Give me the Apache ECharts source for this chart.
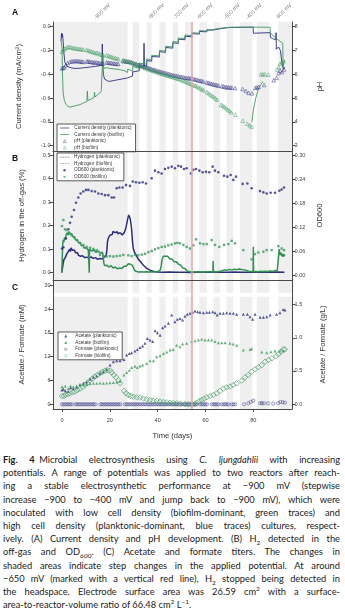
<!DOCTYPE html>
<html>
<head>
<meta charset="utf-8">
<script src="https://cdn.jsdelivr.net/npm/echarts@6/dist/echarts.min.js"></script>
<style>
  html, body { margin: 0; padding: 0; background: #fff; width: 345px; height: 614px; overflow: hidden; }
  #chart { position: absolute; left: 0; top: 0; width: 345px; height: 452px; }
  #caption { position: absolute; left: 3px; top: 453px; width: 337px; font-family: Lato, "Noto Sans", sans-serif;
             font-size: 9.3px; line-height: 13.2px; color: #1a1a1a; }
  #caption .ln { text-align: justify; text-align-last: justify; }
  #caption .last { text-align: left; text-align-last: left; }
  #caption sub, #caption sup { font-size: 70%; line-height: 0; }
</style>
</head>
<body>
<div id="chart"></div>
<div id="caption">
  <div class="ln"><b>Fig. 4</b>&ensp;Microbial electrosynthesis using <i>C. ljungdahlii</i> with increasing</div>
  <div class="ln">potentials. A range of potentials was applied to two reactors after reach-</div>
  <div class="ln">ing a stable electrosynthetic performance at −900 mV (stepwise</div>
  <div class="ln">increase −900 to −400 mV and jump back to −900 mV), which were</div>
  <div class="ln">inoculated with low cell density (biofilm-dominant, green traces) and</div>
  <div class="ln">high cell density (planktonic-dominant, blue traces) cultures, respect-</div>
  <div class="ln">ively. (A) Current density and pH development. (B) H<sub>2</sub> detected in the</div>
  <div class="ln">off-gas and OD<sub>600</sub>. (C) Acetate and formate titers. The changes in</div>
  <div class="ln">shaded areas indicate step changes in the applied potential. At around</div>
  <div class="ln">−650 mV (marked with a vertical red line), H<sub>2</sub> stopped being detected in</div>
  <div class="ln">the headspace. Electrode surface area was 26.59 cm<sup>2</sup> with a surface-</div>
  <div class="ln last">area-to-reactor-volume ratio of 66.48 cm<sup>2</sup> L<sup>−1</sup>.</div>
</div>
<script>
// ---- time axis and potential steps -------------------------------------
const DAY_MIN = -3.76, DAY_MAX = 96.15;
const timeTicks = [0, 20, 40, 60, 80];
const potentialDays = [14.6, 37.1, 47.5, 57.4, 68.8, 77.9, 90.4];
const potentialLabels = ['-900 mV', '-800 mV', '-700 mV', '-600 mV', '-500 mV', '-400 mV', '-900 mV'];
// shaded step intervals (days)
const shadedSteps = [[DAY_MIN, 27.45], [29.5, 32.3], [35.4, 37.5], [40.7, 43.3], [46.3, 48.6], [51.4, 54.2],
  [57.4, 60.5], [63.3, 66.1], [68.8, 71.6], [74.4, 79.6], [81.4, 86.7], [90.4, DAY_MAX]];
const redLineDay = 54.2;

// ---- tick values --------------------------------------------------------
const currentTicks = [-1.0, -0.8, -0.6, -0.4, -0.2, 0.0];
const phTicks = [3, 4, 5, 6, 7, 8];
const hydrogenTicks = [0, 0.1, 0.2, 0.3, 0.4, 0.5];
const odTicks = [0, 0.06, 0.12, 0.18, 0.24, 0.30];
const mmTicks = [0, 6, 12, 18, 24, 30];
const glTicks = [0, 0.5, 1.0, 1.5];

// ---- (A) current density, mA/cm2 ---------------------------------------
const currentPlanktonic = [[-0.4,-0.12],[-0.2,-0.055],[0,-0.09],[0.2,-0.06],[0.4,-0.1],[0.8,-0.22],[1.2,-0.3],[2,-0.33],[3,-0.34],[4,-0.345],[5,-0.35],[6.5,-0.35],[8,-0.348],[10,-0.343],[12,-0.338],[14,-0.333],[15.5,-0.328],[16.7,-0.325],[16.85,-0.145],[17.0,-0.3],[17.3,-0.4],[17.8,-0.44],[18.5,-0.455],[19.5,-0.46],[21,-0.455],[23,-0.447],[25,-0.44],[27.45,-0.43],[29.5,-0.415],[29.55,-0.38],[32.3,-0.37],[32.35,-0.325],[34.2,-0.335],[34.3,-0.14],[34.4,-0.33],[35.4,-0.335],[35.45,-0.285],[37.5,-0.29],[37.55,-0.25],[40.7,-0.255],[40.75,-0.21],[43.3,-0.215],[43.35,-0.175],[46.3,-0.18],[46.35,-0.135],[48.6,-0.14],[48.65,-0.105],[51.4,-0.11],[51.45,-0.08],[54.2,-0.085],[54.25,-0.058],[57.4,-0.062],[57.45,-0.04],[60.5,-0.043],[60.55,-0.026],[63.3,-0.028],[63.35,-0.015],[66.1,-0.017],[66.15,-0.008],[70,-0.006],[75,-0.005],[79.9,-0.004],[80,-0.055],[87,-0.05],[87.1,-0.09],[88,-0.1],[89.4,-0.11],[89.5,-0.05],[89.6,-0.19],[90.5,-0.17],[91.3,-0.2],[91.8,-0.28],[92.5,-0.36],[93.1,-0.34]];
const currentBiofilm = [[-0.4,-0.12],[0,-0.17],[0.2,-0.4],[0.5,-0.56],[1,-0.62],[1.6,-0.65],[2.5,-0.67],[3.5,-0.675],[4.5,-0.67],[5.5,-0.665],[6.5,-0.66],[7.5,-0.655],[8.5,-0.645],[9.5,-0.635],[10.4,-0.63],[10.6,-0.54],[10.8,-0.62],[11.5,-0.615],[12.5,-0.605],[13.4,-0.595],[13.6,-0.55],[13.8,-0.59],[14.8,-0.575],[15.6,-0.56],[16.4,-0.545],[16.9,-0.53],[17.1,-0.23],[17.3,-0.33],[17.6,-0.35],[18.5,-0.345],[20,-0.35],[22,-0.355],[24,-0.36],[26,-0.37],[27.45,-0.385],[27.5,-0.355],[29.5,-0.375],[29.55,-0.335],[32.3,-0.35],[32.35,-0.305],[35.4,-0.315],[35.45,-0.27],[37.5,-0.28],[37.55,-0.24],[40.7,-0.245],[40.75,-0.2],[43.3,-0.205],[43.35,-0.165],[46.3,-0.17],[46.35,-0.125],[48.6,-0.13],[48.65,-0.095],[51.4,-0.1],[51.45,-0.07],[54.2,-0.075],[54.25,-0.05],[57.4,-0.055],[57.45,-0.033],[60.5,-0.036],[60.55,-0.02],[63.3,-0.023],[63.35,-0.011],[66.1,-0.013],[66.15,-0.006],[70,-0.006],[75,-0.004],[77.8,-0.004],[77.85,0.012],[77.9,-0.004],[83,-0.004],[87,-0.005],[87.1,-0.05],[88,-0.07],[89.5,-0.1],[91,-0.12],[92.3,-0.14],[92.4,-0.34],[92.8,-0.3],[93.2,-0.28]];
const currentBiofilmRecovery = [[79.4,-0.8],[80,-0.7],[81,-0.6],[82,-0.53],[83,-0.49],[84,-0.46]];

// ---- (A) pH ---------------------------------------------------------------
const phPlanktonic = [[0,6.25],[0.5,6.27],[1,6.3],[1.6,6.38],[2.4,6.48],[3.4,6.53],[4.2,6.55],[5,6.55],[5.6,6.56],[6.3,6.56],[7,6.55],[7.6,6.54],[8.3,6.53],[9,6.52],[10.4,6.55],[11,6.54],[11.6,6.53],[12.3,6.52],[13,6.5],[13.6,6.5],[14.3,6.5],[15,6.48],[15.6,6.47],[16.3,6.46],[17,6.45],[18.6,6.5],[19.3,6.49],[20,6.48],[20.7,6.47],[21.4,6.46],[22.1,6.45],[22.8,6.44],[23.5,6.44],[25.5,6.56],[26.2,6.55],[26.9,6.54],[27.6,6.53],[28.3,6.52],[29,6.5],[29.7,6.48],[30.4,6.45],[31.1,6.43],[31.8,6.4],[32.5,6.38],[33.2,6.36],[33.9,6.34],[34.6,6.32],[35.3,6.3],[36,6.27],[36.7,6.25],[37.4,6.22],[38.1,6.2],[38.8,6.18],[39.5,6.16],[40.2,6.14],[40.9,6.12],[41.6,6.1],[42.3,6.08],[43,6.06],[43.7,6.04],[44.4,6.02],[45.1,6.0],[45.8,5.98],[46.5,5.96],[47.2,5.95],[47.9,5.93],[48.6,5.92],[49.3,5.9],[50,5.89],[50.7,5.88],[51.4,5.86],[52.1,5.85],[52.8,5.84],[53.5,5.83],[54.2,5.82],[54.9,5.8],[55.6,5.79],[56.3,5.77],[57,5.75],[57.7,5.73],[58.4,5.72],[59.1,5.7],[60.5,5.66],[61.2,5.64],[61.9,5.62],[62.6,5.6],[63.3,5.58],[64,5.56],[64.7,5.55],[65.4,5.52],[66.8,5.5],[67.5,5.49],[68.2,5.47],[68.9,5.46],[69.6,5.45],[70.3,5.44],[71,5.44],[72.4,5.42],[75.5,5.38],[76.9,5.3],[78,5.22],[79.4,5.2],[80.8,5.43],[81.5,5.45],[82.2,5.47],[84.5,5.55],[88.5,5.75],[89.7,5.85],[90.5,6.05],[91.2,6.15],[92,6.1],[92.8,6.2]];
const phBiofilm = [[0,6.95],[0.6,7.02],[1.2,7.08],[1.9,7.12],[2.6,7.15],[3.3,7.15],[4.0,7.12],[4.7,7.1],[5.4,7.1],[6.1,7.08],[6.8,7.07],[7.5,7.06],[8.2,7.05],[8.9,7.04],[10.3,7.03],[11,7.0],[11.7,6.98],[12.4,6.95],[13.1,6.93],[13.8,6.9],[14.5,6.9],[15.2,6.88],[15.9,6.85],[16.6,6.82],[17.3,6.8],[18.7,6.8],[19.4,6.78],[20.1,6.75],[20.8,6.73],[21.5,6.7],[22.2,6.68],[22.9,6.66],[23.6,6.64],[25.6,6.6],[26.3,6.58],[27,6.56],[27.7,6.54],[28.4,6.52],[29.1,6.5],[29.8,6.47],[30.5,6.44],[31.2,6.41],[31.9,6.38],[32.6,6.36],[33.3,6.33],[34,6.3],[34.7,6.27],[35.4,6.25],[36.1,6.22],[36.8,6.2],[37.5,6.17],[38.2,6.15],[38.9,6.12],[39.6,6.1],[40.3,6.07],[41,6.05],[41.7,6.03],[42.4,6.0],[43.1,5.98],[43.8,5.96],[44.5,5.94],[45.2,5.92],[45.9,5.9],[46.6,5.88],[47.3,5.86],[48,5.83],[48.7,5.81],[49.4,5.79],[50.1,5.76],[50.8,5.73],[51.5,5.7],[52.2,5.67],[52.9,5.64],[53.6,5.61],[54.3,5.58],[55,5.55],[55.7,5.52],[56.4,5.49],[57.1,5.45],[57.8,5.41],[58.5,5.37],[59.2,5.33],[60.6,5.25],[61.3,5.2],[62,5.15],[62.7,5.1],[63.4,5.05],[64.1,4.99],[64.8,4.93],[66.5,4.72],[67.2,4.68],[67.9,4.63],[68.6,4.58],[69.3,4.52],[70,4.47],[70.7,4.4],[72.5,4.3],[75.6,4.05],[77.5,3.92],[78.5,3.86],[79.2,3.8],[83.2,6.0],[84,6.0],[84.8,6.0],[86.3,5.98],[89.9,6.2],[90.6,6.3],[91.2,6.45],[91.9,6.5],[92.6,6.55]];

// ---- (B) hydrogen in off-gas, % ---------------------------------------------
const h2Planktonic = [[-0.1,0.0],[0.2,0.02],[0.5,0.04],[0.8,0.055],[1.1,0.05],[1.4,0.065],[1.7,0.07],[2.0,0.08],[2.3,0.075],[2.6,0.09],[2.9,0.095],[3.2,0.1],[3.5,0.09],[3.8,0.105],[4.1,0.1],[4.4,0.095],[4.7,0.1],[5.0,0.09],[5.3,0.095],[5.6,0.085],[5.9,0.09],[6.2,0.08],[6.5,0.085],[6.8,0.075],[7.1,0.08],[7.4,0.075],[7.7,0.07],[8.0,0.078],[8.3,0.068],[8.6,0.072],[8.9,0.065],[9.2,0.07],[9.5,0.064],[9.8,0.068],[10.1,0.062],[10.4,0.066],[10.7,0.06],[11.0,0.065],[11.3,0.062],[11.6,0.068],[11.9,0.063],[12.2,0.067],[12.5,0.062],[12.8,0.066],[13.1,0.061],[13.4,0.065],[13.7,0.06],[14.0,0.064],[14.3,0.058],[14.6,0.062],[14.9,0.057],[15.2,0.061],[15.5,0.056],[15.8,0.06],[16.1,0.057],[16.4,0.062],[16.7,0.058],[17.0,0.063],[17.3,0.06],[17.6,0.066],[17.9,0.064],[18.2,0.07],[18.5,0.075],[18.8,0.1],[19.0,0.13],[19.2,0.14],[19.5,0.15],[19.8,0.145],[20.1,0.16],[20.4,0.155],[20.7,0.168],[21.0,0.162],[21.3,0.175],[21.6,0.168],[21.9,0.178],[22.2,0.17],[22.5,0.176],[22.8,0.168],[23.1,0.174],[23.4,0.165],[23.7,0.172],[24.0,0.166],[24.3,0.17],[24.6,0.162],[24.9,0.168],[25.2,0.16],[25.5,0.167],[25.8,0.163],[26.1,0.172],[26.4,0.18],[26.7,0.19],[27.0,0.205],[27.3,0.22],[27.6,0.235],[27.9,0.245],[28.2,0.24],[28.5,0.23],[28.8,0.21],[29.1,0.185],[29.4,0.14],[29.7,0.11],[30.0,0.095],[30.4,0.085],[30.8,0.078],[31.2,0.07],[31.6,0.062],[32.0,0.056],[32.5,0.05],[33.0,0.044],[33.5,0.038],[34.0,0.032],[34.5,0.027],[35.0,0.022],[35.5,0.018],[36.0,0.015],[36.5,0.012],[37.0,0.01],[37.5,0.008],[38.0,0.006],[39,0.004],[40,0.003],[42,0.002],[45,0.003],[48,0.002],[51,0.002],[54,0.001],[57,0.002],[60,0.002],[63,0.003],[66,0.002],[69,0.002],[72,0.003],[75,0.002],[78,0.002],[81,0.003],[84,0.002],[87,0.002],[90,0.003],[93,0.002]];
const h2Biofilm = [[-0.1,0.0],[0.1,0.06],[0.3,0.12],[0.5,0.14],[0.8,0.13],[1.1,0.15],[1.4,0.14],[1.7,0.16],[2.0,0.155],[2.3,0.17],[2.6,0.16],[2.9,0.175],[3.2,0.165],[3.5,0.17],[3.8,0.16],[4.1,0.165],[4.4,0.155],[4.7,0.16],[5.0,0.148],[5.3,0.152],[5.6,0.14],[5.9,0.145],[6.2,0.135],[6.5,0.14],[6.8,0.128],[7.1,0.132],[7.4,0.122],[7.7,0.126],[8.0,0.116],[8.3,0.12],[8.6,0.11],[8.9,0.115],[9.2,0.105],[9.5,0.11],[9.8,0.1],[10.1,0.106],[10.4,0.098],[10.7,0.103],[11.0,0.096],[11.3,0.1],[11.4,0.0],[11.5,0.1],[11.8,0.094],[12.1,0.1],[12.4,0.092],[12.7,0.098],[13.0,0.09],[13.3,0.097],[13.6,0.089],[13.9,0.095],[14.2,0.087],[14.5,0.093],[14.8,0.086],[15.1,0.092],[15.4,0.085],[15.7,0.09],[16.0,0.083],[16.3,0.088],[16.6,0.082],[16.9,0.087],[17.2,0.07],[17.5,0.04],[17.8,0.03],[18.1,0.034],[18.4,0.026],[18.7,0.032],[19.0,0.025],[19.3,0.03],[19.6,0.024],[19.9,0.03],[20.2,0.025],[20.5,0.03],[20.8,0.022],[21.1,0.028],[21.4,0.02],[21.7,0.026],[22.0,0.018],[22.3,0.024],[22.6,0.017],[22.9,0.022],[23.2,0.016],[23.5,0.021],[23.8,0.015],[24.1,0.02],[24.4,0.016],[24.7,0.022],[25.0,0.018],[25.3,0.024],[25.6,0.02],[25.9,0.027],[26.2,0.024],[26.5,0.03],[26.8,0.027],[27.1,0.035],[27.4,0.03],[27.7,0.038],[28.0,0.033],[28.3,0.04],[28.6,0.036],[28.9,0.042],[29.2,0.035],[29.5,0.03],[29.8,0.022],[30.1,0.015],[30.4,0.01],[30.8,0.006],[31.2,0.004],[32,0.003],[33,0.004],[34,0.003],[35,0.004],[36,0.003],[37,0.004],[38,0.003],[39,0.004],[40,0.005],[41,0.01],[41.5,0.03],[41.8,0.055],[42.1,0.06],[42.4,0.07],[42.7,0.065],[43.0,0.078],[43.3,0.07],[43.6,0.075],[43.9,0.066],[44.2,0.07],[44.5,0.062],[44.8,0.066],[45.1,0.058],[45.4,0.062],[45.7,0.054],[46.0,0.058],[46.3,0.05],[46.6,0.054],[46.9,0.046],[47.2,0.05],[47.5,0.043],[47.8,0.046],[48.1,0.04],[48.4,0.043],[48.7,0.036],[49.0,0.038],[49.3,0.03],[49.6,0.032],[49.9,0.025],[50.2,0.027],[50.5,0.02],[50.8,0.022],[51.1,0.016],[51.4,0.018],[51.7,0.012],[52.0,0.01],[52.5,0.006],[53,0.004],[54,0.003],[55,0.004],[56,0.003],[57,0.004],[58,0.003],[59,0.004],[60,0.003],[61,0.004],[62,0.004],[63.1,0.003],[63.2,0.05],[63.3,0.003],[64,0.005],[65,0.004],[66,0.006],[67,0.008],[68,0.012],[69,0.01],[70,0.014],[71,0.012],[72,0.015],[73,0.013],[74,0.016],[75,0.014],[76,0.012],[77,0.01],[78,0.006],[79,0.005],[79.9,0.004],[80,0.11],[80.1,0.004],[81,0.005],[82,0.004],[83,0.006],[84,0.005],[85,0.006],[86,0.005],[87,0.007],[88,0.006],[89,0.008],[90,0.01],[90.5,0.015],[90.8,0.1],[91.0,0.085],[91.3,0.075],[91.6,0.085],[91.9,0.07],[92.2,0.08],[92.5,0.068],[92.8,0.078],[93.1,0.07]];

// ---- (B) OD600 --------------------------------------------------------------
const odPlanktonic = [[0,0.067],[0.56,0.070],[1.67,0.092],[2.65,0.115],[3.34,0.131],[4.04,0.146],[5.02,0.163],[5.85,0.181],[6.83,0.194],[7.8,0.204],[8.92,0.209],[10.03,0.213],[11.01,0.213],[12.4,0.210],[13.8,0.209],[15.19,0.204],[16.58,0.203],[17.98,0.200],[19.37,0.200],[20.76,0.194],[21.74,0.194],[22.85,0.217],[23.97,0.219],[25.36,0.219],[26.76,0.225],[28.43,0.223],[29.54,0.234],[30.93,0.232],[32.33,0.231],[33.72,0.232],[35.12,0.229],[37.49,0.242],[38.88,0.261],[40.27,0.257],[41.67,0.254],[43.06,0.265],[44.45,0.268],[45.85,0.271],[47.24,0.267],[48.63,0.273],[49.75,0.271],[51.0,0.265],[52.12,0.267],[53.93,0.254],[54.91,0.263],[56.02,0.265],[57.41,0.261],[58.81,0.257],[60.2,0.258],[61.59,0.257],[62.99,0.271],[63.96,0.261],[65.36,0.257],[67.73,0.248],[69.12,0.246],[70.51,0.250],[71.63,0.238],[72.74,0.246],[75.53,0.228],[77.48,0.229],[79.29,0.217],[82.78,0.210],[84.17,0.207],[85.56,0.204],[87.24,0.206],[89.05,0.206],[90.86,0.211],[91.83,0.214],[92.81,0.219]];
const odBiofilm = [[0,0.123],[0.56,0.138],[1.25,0.115],[1.95,0.113],[3.07,0.105],[4.04,0.100],[5.02,0.095],[6.13,0.088],[7.53,0.081],[8.92,0.076],[10.31,0.071],[11.71,0.069],[13.1,0.066],[14.49,0.063],[15.89,0.051],[17.28,0.047],[18.67,0.047],[20.07,0.048],[21.46,0.047],[22.85,0.048],[24.25,0.049],[25.64,0.051],[27.73,0.050],[29.12,0.048],[30.52,0.051],[31.91,0.050],[33.31,0.052],[34.7,0.054],[36.09,0.058],[37.49,0.061],[38.88,0.065],[40.27,0.068],[41.67,0.071],[43.06,0.072],[44.45,0.075],[45.85,0.077],[47.24,0.080],[48.22,0.081],[49.33,0.080],[50.72,0.076],[52.12,0.071],[53.51,0.067],[54.91,0.075],[56.02,0.090],[57.69,0.080],[59.09,0.078],[60.48,0.078],[62.57,0.088],[63.96,0.076],[65.77,0.071],[67.73,0.076],[69.54,0.078],[70.93,0.086],[72.32,0.080],[75.81,0.063],[79.29,0.040],[80.69,0.053],[82.08,0.057],[84.17,0.059],[85.56,0.063],[87.65,0.063],[90.44,0.073],[91.83,0.067],[92.81,0.063]];

// ---- (C) acetate and formate, mM ------------------------------------------
const acetatePlanktonic = [[0,3.6],[0.56,3.8],[1.4,3.4],[2.65,3.2],[3.6,4.2],[4.74,3.9],[6.13,4.3],[7.53,4.9],[8.92,5.3],[10.31,5.6],[11.71,6.3],[13.1,6.8],[14.49,7.1],[15.89,7.8],[17.28,8.2],[18.67,8.8],[20.07,9.9],[21.46,10.7],[22.85,11.0],[24.25,11.0],[25.9,11.3],[27.03,12.4],[28.15,12.8],[29.12,13.0],[30.5,13.4],[31.5,13.8],[32.6,14.3],[33.7,14.7],[34.7,15.4],[35.7,16.6],[36.8,16.2],[37.9,15.8],[38.9,18.5],[39.9,18.0],[41,17.4],[42.1,19.3],[43.1,19.7],[44.5,20.4],[45.85,22.5],[47.2,20.8],[48.2,21.4],[49.3,21.6],[50.4,21.2],[51.4,22.2],[52.4,22.7],[53.5,22.9],[54.6,23.15],[55.6,23.5],[56.7,23.3],[57.7,23.15],[59.1,23.07],[60.5,23.2],[61.6,23.15],[63,23.3],[64,23.07],[64.9,22.5],[66.05,22.9],[67.45,22.9],[68.84,23.07],[70.23,22.9],[71.63,22.9],[73,22.7],[75.8,22.65],[77.5,22.7],[78.6,22.06],[79.7,21.4],[80.7,22.7],[82.8,21.9],[84.2,21.9],[85.6,22.06],[87,22.5],[89.7,22.7],[91.1,23.07],[92.5,23.9],[93.2,23.74]];
const acetateBiofilm = [[0,4.45],[0.56,3.9],[1.4,4.6],[2.65,4.0],[3.6,4.6],[4.74,4.45],[6.13,4.6],[7.53,5.0],[8.92,4.9],[10.31,5.0],[11.71,5.2],[13.1,5.3],[14.49,5.3],[15.89,5.35],[17.28,5.3],[18.67,5.35],[20.07,5.4],[21.46,5.5],[22.85,5.6],[24.25,5.8],[25.9,7.4],[27.03,8.0],[28.15,8.6],[29.12,9.3],[30.5,9.6],[31.5,9.3],[32.6,9.65],[33.7,9.9],[35.4,10.3],[36.8,11.0],[38.2,11.0],[39.6,12.0],[41,12.2],[42.4,12.8],[43.8,13.2],[45.2,13.7],[46.5,13.8],[47.9,14.9],[49.3,14.5],[50.4,15.2],[52.1,15.4],[54.2,15.8],[55.6,16.0],[57,16.2],[58.4,16.4],[59.8,16.2],[61.2,16.2],[62.6,16.2],[64,15.8],[65.4,15.5],[66.8,15.5],[68.2,15.5],[70.2,15.35],[71.6,15.2],[73,14.9],[75.8,13.7],[78.6,13.8],[79.3,14.0],[83.5,13.2],[85.6,13.0],[87.3,13.25],[89,13.4],[91.1,13.4],[92.5,13.4]];
const formatePlanktonic = [[0,0],[0.7,0],[1.4,0],[2.1,0],[2.8,0],[3.5,0],[4.2,0],[5.6,0],[6.3,0],[7,0],[7.7,0],[8.4,0],[9.1,0],[9.8,0],[10.5,0],[11.2,0],[11.9,0],[12.6,0],[13.3,0],[14,0],[16,0],[16.7,0],[17.4,0],[18.1,0],[18.8,0],[19.5,0],[20.2,0],[20.9,0],[21.6,0],[22.3,0],[23,0],[23.7,0],[24.4,0],[26.3,0],[27,0],[27.7,0],[28.4,0],[29.1,0],[29.8,0],[30.5,0],[31.2,0],[31.9,0],[32.6,0],[33.3,0],[34,0],[34.7,0],[35.4,0],[36.1,0],[36.8,0],[37.5,0],[38.2,0],[38.9,0],[39.6,0],[40.3,0],[41,0],[41.7,0],[42.4,0],[43.1,0],[43.8,0],[44.5,0],[45.2,0],[45.9,0],[46.6,0],[47.3,0],[48,0],[48.7,0],[49.4,0],[50.1,0],[50.8,0],[51.5,0],[52.2,0],[52.9,0],[53.6,0],[54.3,0],[55,0],[55.7,0],[56.4,0],[57.8,0],[58.5,0],[59.2,0],[59.9,0],[60.6,0],[62.6,0],[63.3,0],[64,0],[64.7,0],[65.4,0],[66.8,0],[67.5,0],[68.2,0],[68.9,0],[69.6,0],[71,0],[71.7,0],[72.4,0],[76.1,0],[77.9,0.25],[78.9,0.6],[80,0.9],[82.8,0.25],[83.6,0.3],[84.4,0.25],[86.1,0.25],[88.3,0.2],[90.3,0.3],[91.3,0.6],[92.3,0.5],[93.2,0.4]];
const formateBiofilm = [[0,2.1],[0.8,2.1],[1.5,2.35],[2.4,2.6],[3.3,2.8],[4.5,3.0],[5.4,3.2],[6.4,3.6],[7.5,3.9],[8.6,4.3],[9.6,4.9],[10.6,5.3],[11.7,6.0],[12.8,6.5],[13.8,7.0],[14.8,7.4],[15.9,7.8],[17,8.2],[18,8.5],[18.9,8.6],[20.1,8.5],[20.8,8.0],[21.7,7.4],[22.6,6.8],[23.6,6.1],[24.3,5.3],[25.9,3.4],[26.8,2.8],[27.7,2.35],[28.7,2.1],[29.8,1.93],[31.2,1.76],[32.6,1.68],[34,1.43],[35.4,1.26],[36.8,1.09],[38.2,0.92],[39.6,0.84],[41,0.67],[42.4,0.59],[43.8,0.5],[45.2,0.42],[46.5,0.34],[47.9,0.25],[49.3,0.17],[51.4,0.08],[52.8,0],[54.2,-0.08],[55.6,0.08],[56.3,0.42],[57.4,0.75],[58.4,1.09],[59.4,1.43],[60.5,1.76],[61.9,2.1],[63.3,2.35],[64.7,2.77],[66,3.36],[67.5,3.95],[68.8,4.28],[70.2,4.45],[71.6,4.87],[73,5.29],[75.1,5.96],[76.5,6.8],[77.9,7.38],[79.3,8.22],[80.7,8.81],[82.1,9.31],[83.5,9.9],[84.9,10.74],[86.3,11.16],[87.7,11.58],[89.5,12.16],[90.5,12.66],[91.5,13.25],[92.5,13.84],[93.2,13.84]];

// ---- styling ----------------------------------------------------------------
const NAVY = '#2c2d80';
const GREEN = '#3b9a5e';
const AXIS = '#4a4a4a';
const FONT = '"Liberation Sans", Arial, sans-serif';
const CLEAR = 'rgba(255,255,255,0)';
// legend glyphs drawn inside a 9 x 3.4 box; the zero-length end segments only fix the box width
const LINE_ICON = 'path://M0,0H24V2H0Z';
const DOT_ICON = 'path://M0,0H2V2H0Z M4.4,0H6.4V2H4.4Z M8.8,0H10.8V2H8.8Z M13.2,0H15.2V2H13.2Z M17.6,0H19.6V2H17.6Z M22,0H24V2H22Z';
const TRI_ICON = 'path://M0,1.7L0,1.7M9,1.7L9,1.7M3,3.3L4.5,0.3L6,3.3Z';
const CIRCLE_ICON = 'path://M0,1.7L0,1.7M9,1.7L9,1.7M3.3,1.7A1.2,1.2,0,1,0,5.7,1.7A1.2,1.2,0,1,0,3.3,1.7Z';
const SQUARE_ICON = 'path://M0,1.7L0,1.7M9,1.7L9,1.7M3.6,0.8H5.4V2.6H3.6Z';
const DIAMOND_ICON = 'path://M0,1.7L0,1.7M9,1.7L9,1.7M4.5,0L6.2,1.7L4.5,3.4L2.8,1.7Z';

const grids = [
  { left: 53, top: 22, width: 239, height: 129 },
  { left: 53, top: 151, width: 239, height: 129 },
  { left: 53, top: 280, width: 239, height: 129 }
];

function bottomAxis(gridIndex, withLabels) {
  return {
    type: 'value', gridIndex, position: 'bottom', min: DAY_MIN, max: DAY_MAX, z: 8,
    axisLine: { show: true, onZero: false, lineStyle: { color: AXIS, width: 1 } },
    axisTick: withLabels ? { show: true, customValues: timeTicks, length: 3, lineStyle: { color: AXIS } } : { show: false },
    axisLabel: withLabels ? { show: true, customValues: timeTicks, fontSize: 5.6, color: '#444', margin: 8, fontFamily: FONT } : { show: false },
    splitLine: { show: false },
    name: withLabels ? 'Time (days)' : '', nameLocation: 'middle', nameGap: 23,
    nameTextStyle: { fontSize: 7.6, color: '#333', fontFamily: FONT }
  };
}

function valueAxis(gridIndex, position, min, max, ticks, digits, name, gap) {
  return {
    type: 'value', gridIndex, position, min, max, z: 8,
    axisLine: { show: true, onZero: false, lineStyle: { color: AXIS, width: 1 } },
    axisTick: { show: true, customValues: ticks, length: 3.5, lineStyle: { color: AXIS } },
    axisLabel: { show: true, customValues: ticks, fontSize: 5.6, color: '#444', margin: 2.5, fontFamily: FONT,
                 formatter: v => Number(v).toFixed(digits) },
    splitLine: { show: false },
    name, nameLocation: 'middle', nameGap: gap, nameRotate: 90,
    nameTextStyle: { fontSize: 7.6, color: '#333', fontFamily: FONT }
  };
}

function bandSeries(xi, yi, extraAreas) {
  const areas = shadedSteps.map(s => [{ xAxis: s[0] }, { xAxis: s[1] }]);
  return {
    type: 'line', xAxisIndex: xi, yAxisIndex: yi, data: [], silent: true, z: 1, symbol: 'none',
    markArea: { silent: true, itemStyle: { color: '#efefef' }, data: areas.concat(extraAreas || []) },
    markLine: { silent: true, symbol: 'none', label: { show: false },
                lineStyle: { color: '#e8a2a2', width: 1.5, type: 'solid' }, data: [{ xAxis: redLineDay }] }
  };
}

function lineSeries(name, xi, yi, data, color, width) {
  return { name, type: 'line', xAxisIndex: xi, yAxisIndex: yi, data, symbol: 'none', z: 3,
           lineStyle: { color, width }, itemStyle: { color } };
}

function markerSeries(name, xi, yi, data, symbol, size, color, hollow, border) {
  return { name, type: 'scatter', xAxisIndex: xi, yAxisIndex: yi, data, symbol, symbolSize: size, z: 4,
           itemStyle: hollow ? { color: CLEAR, borderColor: color, borderWidth: border || 0.6 } : { color } };
}

// legend entry with its own glyph; hollow glyphs get a coloured outline only
function entry(name, icon, color, hollow) {
  return { name, icon,
           itemStyle: hollow ? { color: CLEAR, borderColor: color, borderWidth: 0.5 }
                             : { color, borderColor: CLEAR, borderWidth: 0 } };
}

function legendBox(items, left, top) {
  return {
    data: items, left, top, orient: 'vertical', itemWidth: 9, itemHeight: 3.4, itemGap: 1.6,
    symbolKeepAspect: true,
    padding: [1.5, 4, 1.5, 3], borderColor: '#333', borderWidth: 0.8, backgroundColor: '#fff',
    selectedMode: false, textStyle: { fontSize: 4.7, color: '#333', fontFamily: FONT }
  };
}

const chart = echarts.init(document.getElementById('chart'), null, { renderer: 'canvas' });
chart.setOption({
  animation: false,
  backgroundColor: '#fff',
  textStyle: { fontFamily: FONT },
  title: [
    { text: 'A', left: 12, top: 8, padding: 0, textStyle: { fontSize: 8.5, fontWeight: 'bold', color: '#111', fontFamily: FONT } },
    { text: 'B', left: 12, top: 154, padding: 0, textStyle: { fontSize: 8.5, fontWeight: 'bold', color: '#111', fontFamily: FONT } },
    { text: 'C', left: 12, top: 283, padding: 0, textStyle: { fontSize: 8.5, fontWeight: 'bold', color: '#111', fontFamily: FONT } }
  ],
  grid: grids,
  xAxis: [
    bottomAxis(0, false),
    {
      type: 'value', gridIndex: 0, position: 'top', min: DAY_MIN, max: DAY_MAX,
      axisLine: { show: false }, axisTick: { show: false }, splitLine: { show: false },
      axisLabel: { show: true, customValues: potentialDays, rotate: 45, align: 'left', verticalAlign: 'bottom',
                   fontSize: 5.4, color: '#777', margin: 1.5, fontFamily: FONT,
                   formatter: v => { const i = potentialDays.findIndex(d => Math.abs(d - v) < 1e-6); return i >= 0 ? potentialLabels[i] : ''; } }
    },
    bottomAxis(1, false),
    bottomAxis(2, true)
  ],
  yAxis: [
    valueAxis(0, 'left', -1.0445, 0.0395, currentTicks, 1, 'Current density (mA/cm\u00B2)', 30),
    valueAxis(0, 'right', 2.7775, 8.1975, phTicks, 0, 'pH', 24),
    valueAxis(1, 'left', -0.031, 0.517, hydrogenTicks, 1, 'Hydrogen in the off-gas (%)', 27),
    valueAxis(1, 'right', -0.01146, 0.30997, odTicks, 2, 'OD600', 24),
    valueAxis(2, 'left', -1.18, 31.30, mmTicks, 0, 'Acetate / Formate (mM)', 27),
    valueAxis(2, 'right', -0.0755, 1.873, glTicks, 1, 'Acetate / Formate (g/L)', 27)
  ],
  legend: [
    legendBox([
      entry('Current density (planktonic)', LINE_ICON, NAVY, false),
      entry('Current density (biofilm)', LINE_ICON, GREEN, false),
      entry('pH (planktonic)', TRI_ICON, NAVY, true),
      entry('pH (biofilm)', TRI_ICON, GREEN, true)], 57, 124),
    legendBox([
      entry('Hydrogen (planktonic)', DOT_ICON, NAVY, false),
      entry('Hydrogen (biofilm)', DOT_ICON, '#2f9152', false),
      entry('OD600 (planktonic)', CIRCLE_ICON, NAVY, false),
      entry('OD600 (biofilm)', SQUARE_ICON, GREEN, false)], 57, 153),
    legendBox([
      entry('Acetate (planktonic)', TRI_ICON, NAVY, false),
      entry('Acetate (biofilm)', TRI_ICON, GREEN, false),
      entry('Formate (planktonic)', CIRCLE_ICON, NAVY, true),
      entry('Formate (biofilm)', DIAMOND_ICON, GREEN, true)], 58, 332)
  ],
  series: [
    bandSeries(0, 0),
    bandSeries(2, 2),
    bandSeries(3, 4, [[{ xAxis: DAY_MIN, yAxis: 27.1, itemStyle: { color: '#fff' } }, { xAxis: DAY_MAX, yAxis: 28.1 }]]),

    lineSeries('Current density (planktonic)', 0, 0, currentPlanktonic, NAVY, 0.9),
    lineSeries('Current density (biofilm)', 0, 0, currentBiofilm, GREEN, 0.9),
    lineSeries('Current density (biofilm)', 0, 0, currentBiofilmRecovery, GREEN, 0.9),
    markerSeries('pH (planktonic)', 0, 1, phPlanktonic, 'triangle', 3.6, NAVY, true, 0.6),
    markerSeries('pH (biofilm)', 0, 1, phBiofilm, 'triangle', 3.6, GREEN, true, 0.6),

    lineSeries('Hydrogen (planktonic)', 2, 2, h2Planktonic, NAVY, 1.5),
    lineSeries('Hydrogen (biofilm)', 2, 2, h2Biofilm, '#2f9152', 1.5),
    markerSeries('OD600 (planktonic)', 2, 3, odPlanktonic, 'circle', 2.6, NAVY, false),
    markerSeries('OD600 (biofilm)', 2, 3, odBiofilm, 'rect', 2.4, GREEN, false),

    markerSeries('Acetate (planktonic)', 3, 4, acetatePlanktonic, 'triangle', 3, NAVY, false),
    markerSeries('Acetate (biofilm)', 3, 4, acetateBiofilm, 'triangle', 3, GREEN, false),
    markerSeries('Formate (planktonic)', 3, 4, formatePlanktonic, 'circle', 3.2, NAVY, true, 0.6),
    markerSeries('Formate (biofilm)', 3, 4, formateBiofilm, 'diamond', 5.5, GREEN, true, 0.8)
  ]
});

// keep each caption line on one row: tighten letter spacing where a line would overflow
(function fitCaption() {
  const box = document.getElementById('caption');
  const W = box.clientWidth;
  box.querySelectorAll('.ln').forEach(el => {
    el.style.whiteSpace = 'nowrap';
    el.style.display = 'inline-block';
    const w = el.getBoundingClientRect().width;
    el.style.display = '';
    el.style.whiteSpace = '';
    if (w > W) {
      const n = el.textContent.length;
      el.style.letterSpacing = ((W - w) / n - 0.02).toFixed(3) + 'px';
    }
  });
})();
</script>
</body>
</html>
